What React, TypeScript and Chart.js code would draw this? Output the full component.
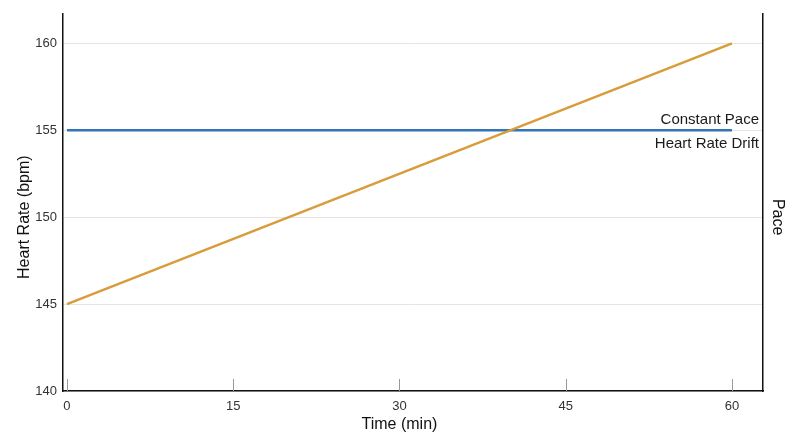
import { Chart, registerables } from 'chart.js';
import { useEffect, useRef } from 'react';

Chart.register(...registerables);

const timeMin = [0, 60];
const constantPaceHr = [155, 155];
const heartRateDriftHr = [145, 160];
const xTickValues = [0, 15, 30, 45, 60];
const yTickValues = [140, 145, 150, 155, 160];
const seriesNames = ['Constant Pace', 'Heart Rate Drift'];
const axisTitles = { x: 'Time (min)', y: 'Heart Rate (bpm)', y2: 'Pace' };

const FONT = "'Liberation Sans', Arial, Helvetica, sans-serif";

const App: React.FC = () => {
    const chartRef = useRef<HTMLCanvasElement | null>(null);
    const chartInstance = useRef<Chart | null>(null);

    useEffect(() => {
        document.body.style.margin = '0';
        if (!chartRef.current) {
            return;
        }
        const context = chartRef.current.getContext('2d');
        if (!context) {
            return;
        }
        if (chartInstance.current) {
            chartInstance.current.destroy();
        }

        // inward tick marks, line-end labels, and axis titles centred on the data domain
        const extras = {
            id: 'extras',
            afterDraw(chart: Chart) {
                const { ctx, chartArea, scales } = chart;
                const xs = scales.x;
                const ys = scales.y;
                ctx.save();
                ctx.strokeStyle = '#999';
                ctx.lineWidth = 1;
                xTickValues.forEach((v) => {
                    const px = Math.round(xs.getPixelForValue(v)) + 0.5;
                    ctx.beginPath();
                    ctx.moveTo(px, chartArea.bottom);
                    ctx.lineTo(px, chartArea.bottom - 12);
                    ctx.stroke();
                });

                const yLine = ys.getPixelForValue(constantPaceHr[constantPaceHr.length - 1]);
                ctx.fillStyle = '#1a1a1a';
                ctx.font = `15px ${FONT}`;
                ctx.textAlign = 'right';
                ctx.textBaseline = 'alphabetic';
                ctx.fillText(seriesNames[0], chartArea.right - 4, yLine - 6.5);
                ctx.textBaseline = 'top';
                ctx.fillText(seriesNames[1], chartArea.right - 4, yLine + 6.5);

                const xMid = xs.getPixelForValue((xTickValues[0] + xTickValues[xTickValues.length - 1]) / 2);
                const yMid = ys.getPixelForValue((yTickValues[0] + yTickValues[yTickValues.length - 1]) / 2);
                ctx.fillStyle = '#111';
                ctx.font = `16px ${FONT}`;
                ctx.textAlign = 'center';
                ctx.textBaseline = 'middle';
                ctx.fillText(axisTitles.x, xMid, 425);

                ctx.save();
                ctx.translate(24.5, yMid);
                ctx.rotate(-Math.PI / 2);
                ctx.fillText(axisTitles.y, 0, 0);
                ctx.restore();

                ctx.save();
                ctx.translate(777, yMid);
                ctx.rotate(Math.PI / 2);
                ctx.fillText(axisTitles.y2, 0, 0);
                ctx.restore();

                ctx.restore();
            },
        };

        chartInstance.current = new Chart(context, {
            type: 'line',
            data: {
                datasets: [
                    {
                        label: seriesNames[1],
                        data: timeMin.map((t, i) => ({ x: t, y: heartRateDriftHr[i] })),
                        borderColor: '#d89c3a',
                        borderWidth: 2.5,
                        pointRadius: 0,
                        fill: false,
                    },
                    {
                        label: seriesNames[0],
                        data: timeMin.map((t, i) => ({ x: t, y: constantPaceHr[i] })),
                        borderColor: '#3375b5',
                        borderWidth: 2.5,
                        pointRadius: 0,
                        fill: false,
                    },
                ],
            },
            options: {
                animation: false,
                responsive: true,
                maintainAspectRatio: false,
                layout: { padding: { top: 13.5, left: 0, right: 0, bottom: 0 } },
                plugins: {
                    legend: { display: false },
                    tooltip: { enabled: false },
                },
                scales: {
                    x: {
                        type: 'linear',
                        min: -0.36,
                        max: 62.8,
                        afterBuildTicks: (scale: any) => {
                            scale.ticks = xTickValues.map((v) => ({ value: v }));
                        },
                        afterFit: (scale: any) => {
                            scale.height = 56;
                        },
                        grid: { display: false, drawTicks: false },
                        border: { display: true, color: '#111', width: 1.5 },
                        ticks: {
                            padding: 8,
                            color: '#333',
                            font: { family: FONT, size: 13 },
                            maxRotation: 0,
                        },
                    },
                    y: {
                        type: 'linear',
                        position: 'left',
                        min: 140,
                        max: 161.7,
                        afterBuildTicks: (scale: any) => {
                            scale.ticks = yTickValues.map((v) => ({ value: v }));
                        },
                        afterFit: (scale: any) => {
                            scale.width = 63;
                        },
                        grid: { color: '#e4e4e4', lineWidth: 1, drawTicks: false },
                        border: { display: true, color: '#111', width: 1.5 },
                        ticks: {
                            padding: 6,
                            color: '#333',
                            font: { family: FONT, size: 13 },
                        },
                    },
                    y2: {
                        type: 'linear',
                        position: 'right',
                        min: 0,
                        max: 1,
                        afterFit: (scale: any) => {
                            scale.width = 37;
                        },
                        grid: { display: false, drawTicks: false },
                        border: { display: true, color: '#111', width: 1.5 },
                        ticks: { display: false },
                    },
                },
            },
            plugins: [extras],
        });

        return () => {
            if (chartInstance.current) {
                chartInstance.current.destroy();
                chartInstance.current = null;
            }
        };
    }, []);

    return (
        <div style={{ position: 'relative', width: 800, height: 447 }}>
            <canvas ref={chartRef} />
        </div>
    );
};

export default App;
